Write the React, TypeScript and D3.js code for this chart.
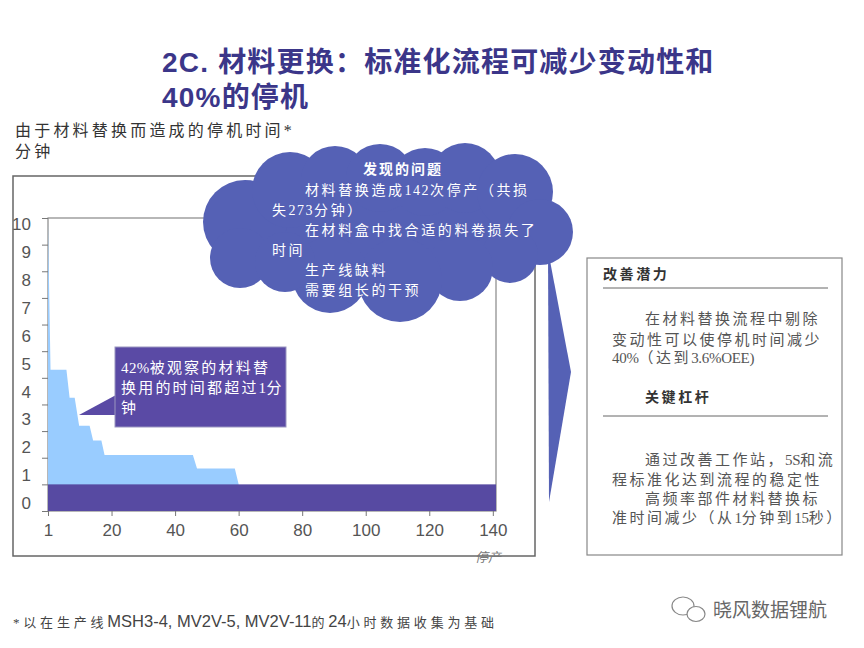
import * as d3 from "d3";
import { useEffect, useRef } from "react";

// stepped downtime curve: changeover index (0 = changeover no. 1) and minutes
const stepIndex = [0, 0.8, 5.8, 6.8, 8.4, 9.8, 13.1, 14.2, 16.8, 17.8, 45.6, 46.9, 58.8, 60];
const stepMinutes = [10.8, 5.3, 5.3, 4.25, 4.25, 3.2, 3.2, 2.65, 2.65, 2.1, 2.1, 1.6, 1.6, 1.0];
const lastChangeover = 141; // 142 changeovers, index 0..141
const baseMinutes = 1;

const xTicks = [0, 20, 40, 60, 80, 100, 120, 140];
const xTickLabels = ["1", "20", "40", "60", "80", "100", "120", "140"];
const yTicks = [0, 1, 2, 3, 4, 5, 6, 7, 8, 9, 10, 11];
const yLabels = [0, 1, 2, 3, 4, 5, 6, 7, 8, 9, 10];

const titleLines = ["2C. 材料更换：标准化流程可减少变动性和", "40%的停机"];
const subtitleLines = ["由于材料替换而造成的停机时间*", "分钟"];
const calloutLines = ["42%被观察的材料替", "换用的时间都超过1分", "钟"];
const cloudTitle = "发现的问题";
const cloudLines = [
  { t: "材料替换造成142次停产（共损", indent: true },
  { t: "失273分钟）", indent: false },
  { t: "在材料盒中找合适的料卷损失了", indent: true },
  { t: "时间", indent: false },
  { t: "生产线缺料", indent: true },
  { t: "需要组长的干预", indent: true },
];
const panelLines1 = [
  { t: "在材料替换流程中剔除", indent: true, y: 324 },
  { t: "变动性可以使停机时间减少", indent: false, y: 345 },
  { t: "40%（达到3.6%OEE)", indent: false, y: 363 },
];
const panelLines2 = [
  { t: "通过改善工作站，5S和流", indent: true, y: 465 },
  { t: "程标准化达到流程的稳定性", indent: false, y: 485 },
  { t: "高频率部件材料替换标", indent: true, y: 504 },
  { t: "准时间减少（从1分钟到15秒）", indent: false, y: 523 },
];

// cloud bumps [cx, cy, r]
const cloudBumps = [
  [245, 222, 42], [240, 258, 30], [290, 190, 38], [335, 180, 34], [380, 178, 34],
  [425, 182, 34], [465, 178, 35], [515, 192, 38], [540, 232, 33], [510, 255, 28],
  [460, 268, 33], [400, 280, 42], [330, 275, 38], [285, 262, 30],
];

const SERIF = '"Liberation Serif", "Noto Sans CJK SC", serif';
const SANS = '"Liberation Sans", Arial, sans-serif';
const TITLE = '"Liberation Sans", "Noto Sans CJK SC", sans-serif';
const CJK = '"Noto Sans CJK SC", sans-serif';

// split into CJK / latin runs so the wide spacing only goes on the CJK glyphs
function addRuns(sel: any, str: string, cjkSpacing: number, latinSpacing: number) {
  const runs = str.match(/[\u3000-\u9fff\uff00-\uffef]+|[^\u3000-\u9fff\uff00-\uffef]+/g) || [];
  runs.forEach((r) => {
    const isCjk = /[\u3000-\u9fff\uff00-\uffef]/.test(r);
    sel.append("tspan").attr("letter-spacing", isCjk ? cjkSpacing : latinSpacing).text(r);
  });
}

export default function App() {
  const ref = useRef<SVGSVGElement | null>(null);

  useEffect(() => {
    const svg = d3.select(ref.current);
    svg.selectAll("*").remove();

    const x = d3.scaleLinear().domain([0, lastChangeover]).range([48, 496]);
    const y = d3.scaleLinear().domain([0, 11]).range([511, 218]);
    // the printed labels sit a little off the tick marks in the original
    const yLab = d3.scaleLinear().domain([0, 10]).range([503, 224]);

    // title
    svg.append("g")
      .selectAll("text")
      .data(titleLines)
      .join("text")
      .attr("x", 162)
      .attr("y", (d, i) => 72 + i * 35)
      .attr("font-family", TITLE)
      .attr("font-weight", 700)
      .attr("font-size", 28)
      .attr("letter-spacing", 1.2)
      .attr("fill", "#3b3689")
      .text((d) => d);

    svg.append("g")
      .selectAll("text")
      .data(subtitleLines)
      .join("text")
      .attr("x", 15)
      .attr("y", (d, i) => 136 + i * 21)
      .attr("font-family", SERIF)
      .attr("font-size", 16)
      .attr("letter-spacing", 3.2)
      .attr("fill", "#333")
      .text((d) => d);

    // outer frame + plot box
    svg.append("rect")
      .attr("x", 13).attr("y", 176).attr("width", 522).attr("height", 380)
      .attr("fill", "none").attr("stroke", "#666").attr("stroke-width", 1.5);
    svg.append("rect")
      .attr("x", x(0)).attr("y", y(11)).attr("width", x(lastChangeover) - x(0)).attr("height", y(0) - y(11))
      .attr("fill", "white").attr("stroke", "#888").attr("stroke-width", 1.2);

    // light blue stepped area
    const pts = stepIndex.map((v, i) => [v, stepMinutes[i]] as [number, number]);
    const area = d3.area<[number, number]>()
      .x((d) => x(d[0]))
      .y0(y(0))
      .y1((d) => y(d[1]));
    svg.append("path").datum(pts).attr("d", area).attr("fill", "#99ccff");

    // 1 minute base for every changeover
    svg.append("rect")
      .attr("x", x(0)).attr("y", y(baseMinutes))
      .attr("width", x(lastChangeover) - x(0)).attr("height", y(0) - y(baseMinutes))
      .attr("fill", "#574aa2");

    // axes (ticks only)
    const gy = svg.append("g").attr("transform", `translate(${x(0)},0)`)
      .call(d3.axisLeft(y).tickValues(yTicks).tickFormat(() => "").tickSize(6).tickSizeOuter(0));
    gy.select(".domain").remove();
    gy.selectAll("line").attr("stroke", "#777");

    svg.append("g")
      .selectAll("text")
      .data(yLabels)
      .join("text")
      .attr("x", 31)
      .attr("y", (d) => yLab(d))
      .attr("dy", "0.36em")
      .attr("text-anchor", "end")
      .attr("font-family", SANS)
      .attr("font-size", 17)
      .attr("fill", "#555")
      .text((d) => String(d));

    const gx = svg.append("g").attr("transform", `translate(0,${y(0)})`)
      .call(d3.axisBottom(x).tickValues(xTicks).tickFormat((d, i) => xTickLabels[i]).tickSize(5).tickPadding(8).tickSizeOuter(0));
    gx.select(".domain").remove();
    gx.selectAll("line").attr("stroke", "#777");
    gx.selectAll("text").attr("font-family", SANS).attr("font-size", 17).attr("fill", "#555");

    svg.append("text")
      .attr("x", 488).attr("y", 562)
      .attr("text-anchor", "middle")
      .attr("font-family", SERIF).attr("font-size", 13).attr("font-style", "italic")
      .attr("fill", "#777")
      .text("停产");

    // callout
    svg.append("path")
      .attr("d", "M79,415 L116,395 L116,415 Z")
      .attr("fill", "#5a4aa5");
    svg.append("rect")
      .attr("x", 115).attr("y", 347).attr("width", 171).attr("height", 80)
      .attr("fill", "#5a4aa5").attr("stroke", "#9a96c0").attr("stroke-width", 1);
    calloutLines.forEach((line, i) => {
      const t = svg.append("text")
        .attr("x", 121)
        .attr("y", 373 + i * 20)
        .attr("font-family", SERIF)
        .attr("font-size", 15)
        .attr("fill", "white");
      addRuns(t, line, 2.2, 0.4);
    });

    // arrow pointing at the right panel
    svg.append("path")
      .attr("d", "M548,250 L571,372 L549,502 Z")
      .attr("fill", "#5561b5");

    // cloud
    const cloud = svg.append("g").attr("fill", "#5561b5");
    cloud.append("ellipse").attr("cx", 390).attr("cy", 228).attr("rx", 150).attr("ry", 55);
    cloud.selectAll("circle")
      .data(cloudBumps)
      .join("circle")
      .attr("cx", (d) => d[0]).attr("cy", (d) => d[1]).attr("r", (d) => d[2]);

    svg.append("text")
      .attr("x", 403).attr("y", 174)
      .attr("text-anchor", "middle")
      .attr("font-family", SERIF).attr("font-size", 14).attr("font-weight", 700)
      .attr("letter-spacing", 2)
      .attr("fill", "white")
      .text(cloudTitle);
    cloudLines.forEach((d, i) => {
      const t = svg.append("text")
        .attr("x", d.indent ? 305 : 272)
        .attr("y", 195 + i * 20)
        .attr("font-family", SERIF)
        .attr("font-size", 14)
        .attr("fill", "white");
      addRuns(t, d.t, 2.6, 1.5);
    });

    // right panel
    svg.append("rect")
      .attr("x", 587).attr("y", 258).attr("width", 255).attr("height", 297)
      .attr("fill", "white").attr("stroke", "#888").attr("stroke-width", 1.2);
    svg.append("text")
      .attr("x", 603).attr("y", 279)
      .attr("font-family", SERIF).attr("font-size", 14).attr("font-weight", 700)
      .attr("letter-spacing", 2.6).attr("fill", "#333")
      .text("改善潜力");
    svg.append("line")
      .attr("x1", 603).attr("x2", 828).attr("y1", 288).attr("y2", 288)
      .attr("stroke", "#666");
    svg.append("text")
      .attr("x", 645).attr("y", 402)
      .attr("font-family", SERIF).attr("font-size", 14).attr("font-weight", 700)
      .attr("letter-spacing", 2.6).attr("fill", "#333")
      .text("关键杠杆");
    svg.append("line")
      .attr("x1", 603).attr("x2", 828).attr("y1", 416).attr("y2", 416)
      .attr("stroke", "#666");
    [...panelLines1, ...panelLines2].forEach((d) => {
      const t = svg.append("text")
        .attr("x", d.indent ? 645 : 612)
        .attr("y", d.y)
        .attr("font-family", SERIF)
        .attr("font-size", 15)
        .attr("fill", "#555");
      addRuns(t, d.t, 2.5, -0.3);
    });

    // footnote
    const foot = svg.append("text").attr("x", 13).attr("y", 627).attr("fill", "#444");
    const parts: [string, boolean][] = [
      ["*以在生产线", false],
      ["MSH3-4, MV2V-5, MV2V-11", true],
      ["的", false],
      ["24", true],
      ["小时数据收集为基础", false],
    ];
    parts.forEach(([t, latin]) => {
      foot.append("tspan")
        .attr("font-family", latin ? SANS : SERIF)
        .attr("font-size", latin ? 16.5 : 13)
        .attr("letter-spacing", latin ? 0 : 3.8)
        .text(t);
    });

    // watermark
    const wm = svg.append("g").attr("fill", "white").attr("stroke", "#888").attr("stroke-width", 1.2);
    wm.append("ellipse").attr("cx", 683).attr("cy", 606).attr("rx", 11).attr("ry", 9);
    wm.append("ellipse").attr("cx", 696).attr("cy", 614).attr("rx", 9).attr("ry", 7.5);
    svg.append("text")
      .attr("x", 713).attr("y", 617)
      .attr("font-family", CJK).attr("font-size", 19)
      .attr("fill", "#666")
      .text("晓风数据锂航");
  }, []);

  return (
    <svg
      ref={ref}
      width={864}
      height={648}
      style={{ position: "absolute", left: 0, top: 0, background: "white" }}
    />
  );
}
